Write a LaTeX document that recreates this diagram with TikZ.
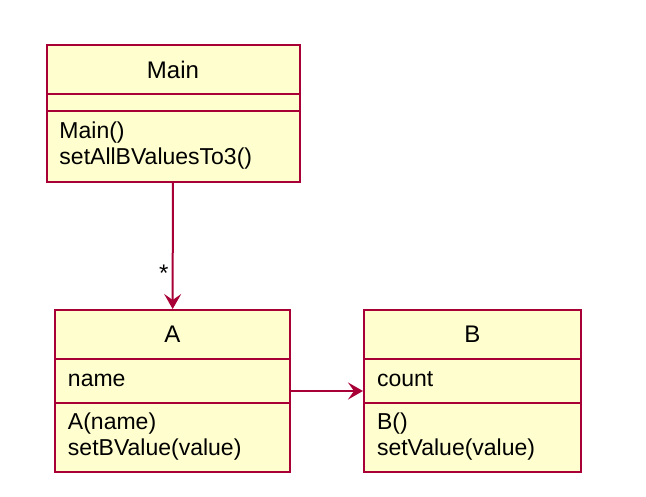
\documentclass[tikz,border=0pt]{standalone}
\usepackage{fontspec}
\setmainfont{Liberation Sans}
\usetikzlibrary{shapes.multipart,arrows.meta}

\definecolor{umlborder}{HTML}{A80036}
\definecolor{umlfill}{HTML}{FEFECE}

\newcommand{\classname}[2]{\parbox[c][47pt][c]{#1}{\centering\fontsize{24}{28}\selectfont #2}}
\newcommand{\classpart}[3]{\parbox[c][#2][c]{#1}{\fontsize{23}{26}\selectfont\raggedright\leftskip=13pt #3}}

\begin{document}
\begin{tikzpicture}[%
       >={Stealth[length=15pt,width=17pt,inset=6pt]},
       x=1pt, y=-1pt,
       line width=2pt,
       umlclass/.style={rectangle split, rectangle split parts=3,
         draw=umlborder, fill=umlfill, inner sep=0pt, anchor=north}
     ]
     \useasboundingbox (0,0) rectangle (646,496);

     \node[umlclass]	(Main)	at (173,44)
       {\classname{253pt}{Main}
        \nodepart{two}\classpart{253pt}{15pt}{}
        \nodepart{three}\classpart{253pt}{69pt}{\strut Main()\\\strut setAllBValuesTo3()}};
     \node[umlclass]	(A)		at (172.5,309)
       {\classname{235pt}{A}
        \nodepart{two}\classpart{235pt}{42pt}{\strut name}
        \nodepart{three}\classpart{235pt}{67pt}{\strut A(name)\\\strut setBValue(value)}};
     \node[umlclass]	(B)		at (472.5,309)
       {\classname{217pt}{B}
        \nodepart{two}\classpart{217pt}{42pt}{\strut count}
        \nodepart{three}\classpart{217pt}{67pt}{\strut B()\\\strut setValue(value)}};

     \path[->] (Main) edge[umlborder]	node[left, pos=0.72, text=black, font=\fontsize{24}{26}\selectfont] {*}	(A);
     \path[->] (A) edge[umlborder]	(B);
\end{tikzpicture}
\end{document}
